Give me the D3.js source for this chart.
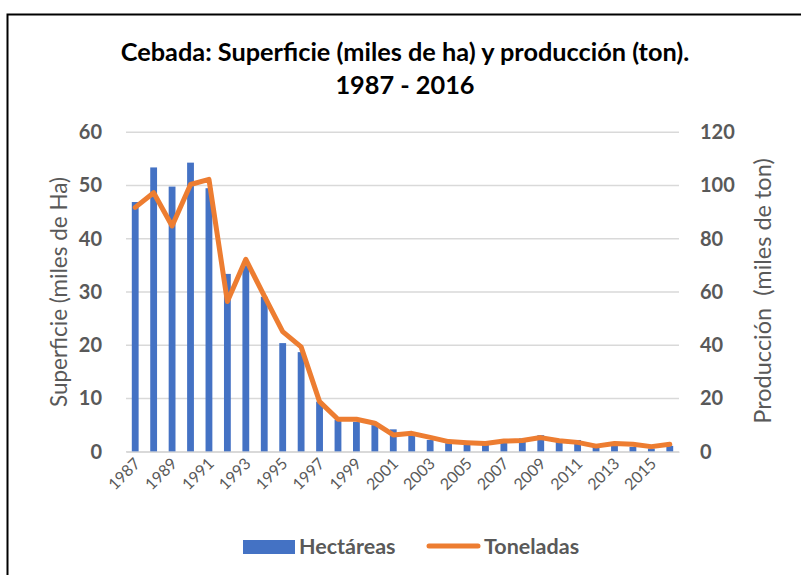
<!DOCTYPE html>
<html><head><meta charset="utf-8">
<script src="https://cdn.jsdelivr.net/npm/d3@7"></script>
<style>body{margin:0;background:#fff;} svg{display:block;}</style>
</head><body>
<svg id="c" width="801" height="575"></svg>
<script>
const years = d3.range(1987, 2017).map(String);
const hectareas = [46.9,53.4,49.8,54.3,49.5,33.4,35.0,29.1,20.4,18.7,9.4,6.0,5.6,5.0,4.2,3.0,2.2,1.6,1.3,1.3,1.9,2.5,3.1,2.3,2.2,0.9,1.7,0.9,0.6,1.1];
const toneladas = [91.8,97.3,84.8,100.4,102.3,56.4,72.3,58.5,45.1,39.4,18.8,12.2,12.2,10.7,6.3,6.9,5.4,3.8,3.4,3.1,4.0,4.2,5.3,4.1,3.5,2.1,3.1,2.8,1.9,2.8];
const leftTicks = [0,10,20,30,40,50,60];
const rightTicks = [0,20,40,60,80,100,120];
const xLabels = years.filter((d,i)=>i%2===0);

const svg = d3.select("#c");
const font = "Lato, 'Open Sans', sans-serif";
const gray = "#595959";

svg.append("rect").attr("x",7.5).attr("y",14.5).attr("width",820).attr("height",600)
  .attr("fill","#fff").attr("stroke","#000").attr("stroke-width",2);

const m = {l:126, r:679, t:132.3, b:451.7};
const x = d3.scaleBand().domain(years).range([m.l, m.r]).paddingInner(0.63).paddingOuter(0.315);
const xc = d3.scaleBand().domain(years).range([m.l, m.r]);
const yL = d3.scaleLinear().domain([0,60]).range([m.b, m.t]);
const yR = d3.scaleLinear().domain([0,120]).range([m.b, m.t]);

// gridlines
svg.append("g").selectAll("line").data(leftTicks).join("line")
  .attr("x1",m.l).attr("x2",m.r).attr("y1",d=>yL(d)).attr("y2",d=>yL(d))
  .attr("stroke","#d9d9d9").attr("stroke-width",1.5);

// bars
svg.append("g").selectAll("rect").data(hectareas).join("rect")
  .attr("x",(d,i)=>x(years[i])).attr("width",x.bandwidth())
  .attr("y",d=>yL(d)).attr("height",d=>yL(0)-yL(d)).attr("fill","#4472c4");

// line
const line = d3.line().x((d,i)=>xc(years[i])+xc.bandwidth()/2).y(d=>yR(d));
svg.append("path").datum(toneladas).attr("d",line).attr("fill","none")
  .attr("stroke","#ed7d31").attr("stroke-width",5).attr("stroke-linejoin","round").attr("stroke-linecap","round");

// left axis
const axL = d3.axisLeft(yL).tickValues(leftTicks).tickSize(0).tickPadding(0);
const gL = svg.append("g").attr("transform",`translate(${m.l-24},0)`).call(axL);
gL.select(".domain").remove();
gL.selectAll("text").attr("font-family",font).attr("font-weight","bold").attr("font-size",20).attr("fill",gray);

const axR = d3.axisRight(yR).tickValues(rightTicks).tickSize(0).tickPadding(0);
const gR = svg.append("g").attr("transform",`translate(${m.r+21},0)`).call(axR);
gR.select(".domain").remove();
gR.selectAll("text").attr("font-family",font).attr("font-weight","bold").attr("font-size",20).attr("fill",gray);

// x axis
const axX = d3.axisBottom(xc).tickValues(xLabels).tickSize(0).tickPadding(0);
const gX = svg.append("g").attr("transform",`translate(0,${m.b})`).call(axX);
gX.select(".domain").attr("stroke","#d9d9d9").attr("stroke-width",1.5);
gX.selectAll("text").attr("font-family",font).attr("font-size",16).attr("fill",gray)
  .attr("text-anchor","end").attr("dy",0).attr("y",0)
  .attr("transform","translate(6,13) rotate(-45)");

// axis titles
svg.append("text").attr("transform",`translate(67,292) rotate(-90)`).attr("text-anchor","middle")
  .attr("font-family",font).attr("font-size",22.5).attr("fill",gray).text("Superficie (miles de Ha)");
svg.append("text").attr("transform",`translate(771,291) rotate(-90)`).attr("text-anchor","middle")
  .attr("font-family",font).attr("font-size",23.5).attr("fill",gray).attr("xml:space","preserve").text("Producción  (miles de ton)");

// title
const t = svg.append("text").attr("text-anchor","middle").attr("font-family",font).attr("font-weight","bold").attr("font-size",25.3).attr("fill","#000");
t.append("tspan").attr("x",405).attr("y",61).text("Cebada: Superficie (miles de ha) y producción (ton).");
t.append("tspan").attr("x",405).attr("y",94).text("1987 - 2016");

// legend
const lg = svg.append("g");
lg.append("rect").attr("x",243).attr("y",540).attr("width",52).attr("height",14).attr("fill","#4472c4");
lg.append("text").attr("x",299).attr("y",554).attr("font-family",font).attr("font-weight","bold").attr("font-size",21.5).attr("fill",gray).text("Hectáreas");
lg.append("line").attr("x1",429).attr("x2",478).attr("y1",546).attr("y2",546).attr("stroke","#ed7d31").attr("stroke-width",5).attr("stroke-linecap","round");
lg.append("text").attr("x",484).attr("y",554).attr("font-family",font).attr("font-weight","bold").attr("font-size",21.5).attr("fill",gray).text("Toneladas");
</script>
</body></html>
